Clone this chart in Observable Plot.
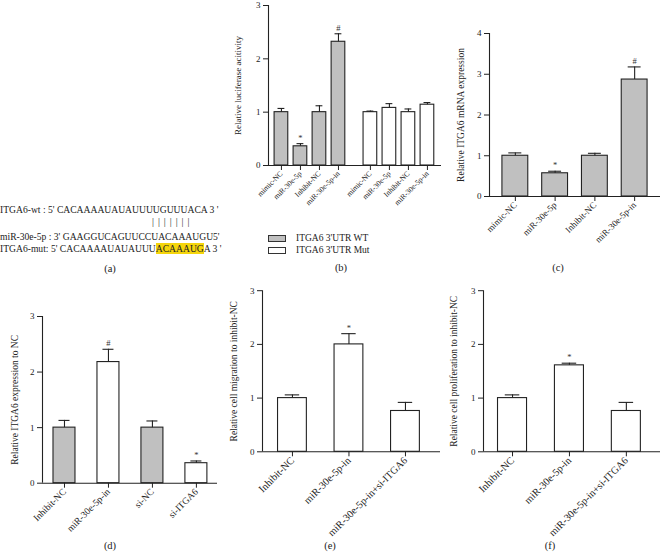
<!DOCTYPE html>
<html><head><meta charset="utf-8">
<script src="https://cdn.jsdelivr.net/npm/d3@7"></script>
<script src="https://cdn.jsdelivr.net/npm/@observablehq/plot@0.6"></script>
<style>
body{margin:0;background:#fff}
#fig{position:relative;width:662px;height:560px;overflow:hidden;font-family:"Liberation Serif","Times New Roman",serif;color:#222;background:#fff}
.abs{position:absolute;white-space:nowrap}
.cap{position:absolute;font-size:10.5px;transform:translate(-50%,-50%);white-space:nowrap}
.seq{position:absolute;left:0;font-size:9.6px;line-height:10px;white-space:nowrap;transform:translateY(-50%)}
.hl{background:#f5d50c}
.sw{position:absolute;width:16px;height:5px;border:1px solid #333}
.lg{position:absolute;font-size:9.5px;transform:translateY(-50%);white-space:nowrap}
</style></head><body><div id="fig"></div>
<script>
// ---------- data ----------
const gray = "#c0c0c0", white = "#ffffff";
// (b) luciferase
const bCats = ["mimic-NC","miR-30e-5p","Inhibit-NC","miR-30e-5p-in"];
const bGroups = ["ITGA6 3'UTR WT","ITGA6 3'UTR Mut"];
const bWT = [1.0, 0.36, 1.0, 2.32];
const bWTerr = [0.07, 0.05, 0.12, 0.15];
const bWTsig = ["", "*", "", "#"];
const bMut = [1.0, 1.08, 1.0, 1.14];
const bMutErr = [0.02, 0.08, 0.06, 0.04];
const bMutSig = ["", "", "", ""];
// (c) mRNA
const cCats = ["mimic-NC","miR-30e-5p","Inhibit-NC","miR-30e-5p-in"];
const cVals = [1.0, 0.57, 1.0, 2.87];
const cErr = [0.07, 0.05, 0.06, 0.31];
const cSig = ["", "*", "", "#"];
// (d) expression
const dCats = ["Inhibit-NC","miR-30e-5p-in","si-NC","si-ITGA6"];
const dVals = [1.0, 2.18, 1.0, 0.36];
const dErr = [0.13, 0.23, 0.12, 0.04];
const dSig = ["", "#", "", "*"];
const dFill = [gray, white, gray, white];
// (e) migration
const eCats = ["Inhibit-NC","miR-30e-5p-in","miR-30e-5p-in+si-ITGA6"];
const eVals = [1.0, 2.0, 0.76];
const eErr = [0.06, 0.20, 0.16];
const eSig = ["", "*", ""];
// (f) proliferation
const fCats = ["Inhibit-NC","miR-30e-5p-in","miR-30e-5p-in+si-ITGA6"];
const fVals = [1.0, 1.61, 0.76];
const fErr = [0.06, 0.04, 0.16];
const fSig = ["", "*", ""];
const yTicks3 = [0, 1, 2, 3];
const yTicks4 = [0, 1, 2, 3, 4];

const fig = document.getElementById("fig");

function panel(o) {
  const data = o.labels.map((l, i) => ({x: o.pos[i], label: l, v: o.vals[i], e: o.errs[i], fill: o.fills[i], sig: o.sigs[i]}));
  const bw = o.bw;
  const fmt = new Map(data.map(d => [d.x, d.label]));
  const yMax = d3.max(o.yTicks);
  const chart = Plot.plot({
    width: o.width, height: o.height,
    marginLeft: o.mL, marginRight: o.mR, marginTop: o.mT, marginBottom: o.mB,
    x: {domain: o.xDomain},
    y: {domain: [0, yMax]},
    color: {type: "identity"},
    style: {fontFamily: "'Liberation Serif','Times New Roman',serif", fontSize: "9px", color: "#222", background: "transparent", overflow: "visible"},
    marks: [
      Plot.rectY(data, {x1: d => d.x - bw/2, x2: d => d.x + bw/2, y1: 0, y2: "v", fill: "fill", stroke: "#222", strokeWidth: 1.1}),
      Plot.ruleX(data, {x: "x", y1: "v", y2: d => d.v + d.e, stroke: "#222", strokeWidth: 1.1}),
      Plot.ruleY(data, {y: d => d.v + d.e, x1: d => d.x - bw/4, x2: d => d.x + bw/4, stroke: "#222", strokeWidth: 1.1}),
      Plot.text(data.filter(d => d.sig), {x: "x", y: d => d.v + d.e, text: "sig", dy: -3, lineAnchor: "bottom", fontSize: 8.5, fill: "#333"}),
      Plot.ruleY([0], {stroke: "#222", strokeWidth: 1.1}),
      Plot.ruleX([o.xDomain[0]], {y1: 0, y2: yMax, stroke: "#222", strokeWidth: 1.1}),
      Plot.axisY({ticks: o.yTicks, tickFormat: d3.format("d"), tickSize: 5, tickPadding: 3, label: null, fontSize: 9}),
      Plot.axisX({ticks: o.pos, tickFormat: d => fmt.get(d), tickRotate: -45, tickSize: 5, tickPadding: 2, label: null, fontSize: o.xFont}),
      Plot.text([o.yLabel], {frameAnchor: "left", textAnchor: "middle", dx: -o.labOff, rotate: -90, fontSize: o.yFont, fill: "#222"})
    ]
  });
  chart.style.position = "absolute";
  chart.style.left = o.left + "px";
  chart.style.top = o.top + "px";
  fig.appendChild(chart);
}

// (b)
const bGap = 0.68;
const bPos = [...bCats.map((c, i) => i), ...bCats.map((c, i) => i + bCats.length + bGap)];
panel({
  left: 220, top: 0, width: 230, height: 232, mL: 48, mR: 9, mT: 5, mB: 67,
  xDomain: [-0.68, 8.42], pos: bPos, bw: 0.72,
  labels: [...bCats, ...bCats], vals: [...bWT, ...bMut], errs: [...bWTerr, ...bMutErr],
  fills: [...bCats.map(() => gray), ...bCats.map(() => white)], sigs: [...bWTsig, ...bMutSig],
  yTicks: yTicks3, yLabel: "Relative luciferase acitivity", labOff: 30, yFont: 9, xFont: 7.5
});
// (c)
panel({
  left: 440, top: 0, width: 222, height: 262, mL: 49, mR: 2, mT: 33, mB: 66,
  xDomain: [-0.65, 3.65], pos: cCats.map((c, i) => i), bw: 0.65,
  labels: cCats, vals: cVals, errs: cErr, fills: cCats.map(() => gray), sigs: cSig,
  yTicks: yTicks4, yLabel: "Relative ITGA6 mRNA expression", labOff: 29, yFont: 9.5, xFont: 9
});
// (d)
panel({
  left: 0, top: 300, width: 220, height: 236, mL: 42, mR: 3, mT: 16, mB: 53.3,
  xDomain: [-0.5, 3.48], pos: dCats.map((c, i) => i), bw: 0.5,
  labels: dCats, vals: dVals, errs: dErr, fills: dFill, sigs: dSig,
  yTicks: yTicks3, yLabel: "Relative ITGA6 expression to NC", labOff: 28, yFont: 9.5, xFont: 9.5
});
// (e)
panel({
  left: 220, top: 280, width: 220, height: 258, mL: 42, mR: 0, mT: 10.2, mB: 86.7,
  xDomain: [-0.53, 2.62], pos: eCats.map((c, i) => i), bw: 0.51,
  labels: eCats, vals: eVals, errs: eErr, fills: eCats.map(() => white), sigs: eSig,
  yTicks: yTicks3, yLabel: "Relative cell migration to inhibit-NC", labOff: 29, yFont: 9.5, xFont: 10.3
});
// (f)
panel({
  left: 440, top: 280, width: 222, height: 258, mL: 43, mR: 2, mT: 10.2, mB: 86.7,
  xDomain: [-0.51, 2.6], pos: fCats.map((c, i) => i), bw: 0.51,
  labels: fCats, vals: fVals, errs: fErr, fills: fCats.map(() => white), sigs: fSig,
  yTicks: yTicks3, yLabel: "Relative cell proliferation to inhibit-NC", labOff: 30, yFont: 9.5, xFont: 10.3
});

// (a) sequences
function add(html, cls, style) {
  const d = document.createElement("div");
  d.className = cls; d.innerHTML = html; Object.assign(d.style, style); fig.appendChild(d); return d;
}
add("ITGA6-wt : 5' CACAAAAUAUAUUUUGUUUACA 3 '", "seq", {top: "210px"});
add("|||||||", "seq", {top: "222px", left: "152px", letterSpacing: "4px"});
add("miR-30e-5p : 3' GAAGGUCAGUUCCUACAAAUGU5'", "seq", {top: "237px"});
add("ITGA6-mut: 5' CACAAAAUAUAUUU<span class='hl'>ACAAAUG</span>A 3 '", "seq", {top: "249px"});

// legend (b)
add("", "sw", {left: "268px", top: "235px", background: gray});
add("", "sw", {left: "268px", top: "247px", background: white});
add(bGroups[0], "lg", {left: "296px", top: "238px"});
add(bGroups[1], "lg", {left: "296px", top: "250px"});

// captions
[["(a)",110,268],["(b)",341,267],["(c)",558,267],["(d)",110,545],["(e)",330,545],["(f)",550,545]]
  .forEach(([t,x,y]) => add(t, "cap", {left: x + "px", top: y + "px"}));
</script></body></html>
